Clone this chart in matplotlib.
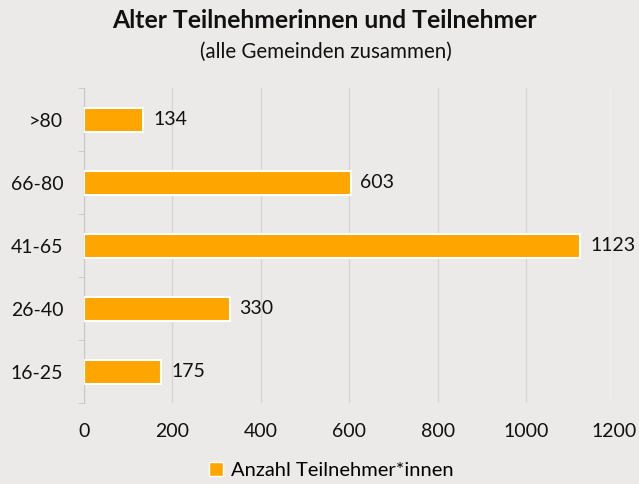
import matplotlib.pyplot as plt
import matplotlib.ticker as ticker
from matplotlib.patches import Patch

plt.rcParams["font.family"] = ["Lato", "DejaVu Sans"]

AGE_GROUPS = ["16-25", "26-40", "41-65", "66-80", ">80"]
PARTICIPANTS = [175, 330, 1123, 603, 134]

TITLE = "Alter Teilnehmerinnen und Teilnehmer"
SUBTITLE = "(alle Gemeinden zusammen)"
LEGEND_LABEL = "Anzahl Teilnehmer*innen"

BG = "#ECEAE8"
BAR_COLOR = "#FFA500"
GRID_COLOR = "#D6D6D6"
TEXT_COLOR = "#111111"


def main():
    fig = plt.figure(figsize=(6.39, 4.84), dpi=100, facecolor=BG)
    ax = fig.add_axes([0.1315, 0.167, 0.83, 0.651], facecolor=BG)

    pos = range(len(AGE_GROUPS))
    bars = ax.barh(pos, PARTICIPANTS, height=0.38, color=BAR_COLOR,
                   edgecolor="white", linewidth=1.5, zorder=3)
    for bar, val in zip(bars, PARTICIPANTS):
        ax.text(bar.get_width() + 22, bar.get_y() + bar.get_height() / 2,
                f"{val}", ha="left", va="center", fontsize=14,
                color=TEXT_COLOR)

    ax.set_xlim(0, 1200)
    ax.set_ylim(-0.5, len(AGE_GROUPS) - 0.5)
    ax.xaxis.set_major_locator(ticker.MultipleLocator(200))
    ax.set_yticks(list(pos))
    ax.set_yticklabels(AGE_GROUPS)
    ax.set_yticks([i - 0.5 for i in range(len(AGE_GROUPS) + 1)], minor=True)

    ax.grid(axis="x", color=GRID_COLOR, linewidth=1, zorder=0)
    for side in ["top", "right", "bottom"]:
        ax.spines[side].set_visible(False)
    ax.spines["left"].set_color("#C8C8C8")

    ax.tick_params(axis="x", length=0, labelsize=14, pad=14,
                   labelcolor=TEXT_COLOR)
    ax.tick_params(axis="y", which="major", length=0, labelsize=14,
                   pad=15, labelcolor=TEXT_COLOR)
    ax.tick_params(axis="y", which="minor", length=4, color="#C8C8C8")

    fig.text(0.508, 0.958, TITLE, ha="center", va="center", fontsize=17.8,
             fontweight="bold", color=TEXT_COLOR)
    fig.text(0.51, 0.893, SUBTITLE, ha="center", va="center", fontsize=14.8,
             color=TEXT_COLOR)

    handle = Patch(facecolor=BAR_COLOR, edgecolor="white", linewidth=1)
    fig.legend([handle], [LEGEND_LABEL], loc="center", ncol=1,
               bbox_to_anchor=(0.518, 0.027), frameon=False, fontsize=14.5,
               handlelength=0.7, handleheight=0.7, handletextpad=0.4)

    fig.savefig("out.png", dpi=100, facecolor=BG)


if __name__ == "__main__":
    main()
